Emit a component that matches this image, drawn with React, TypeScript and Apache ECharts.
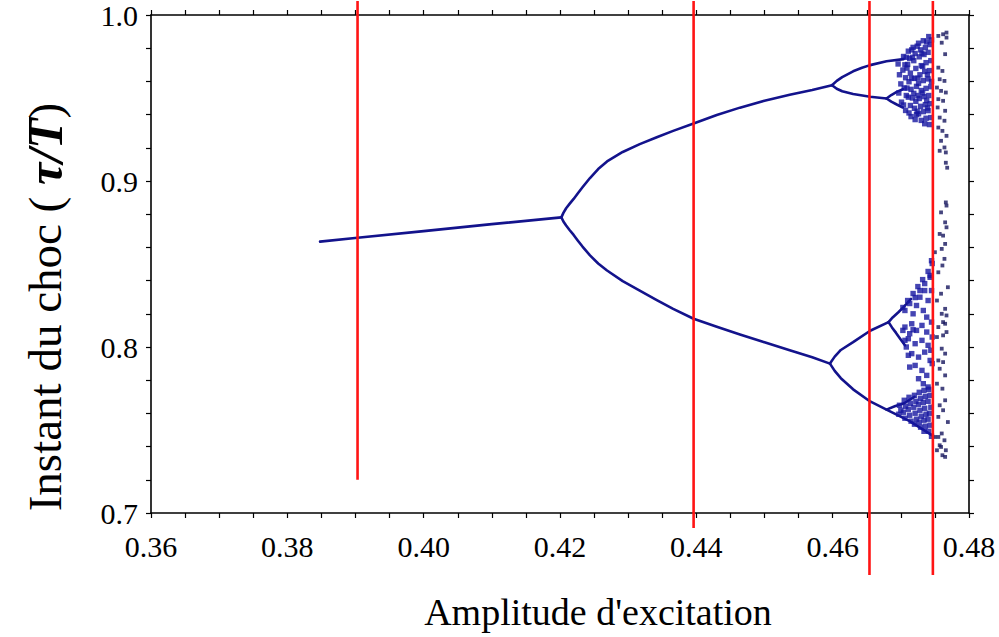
import React, { useEffect, useRef } from "react";
import * as echarts from "echarts";

// ---- Branch curves (amplitude, tau/T) ----
const period1 = [[0.3848, 0.8635], [0.3903, 0.8658], [0.4, 0.8698], [0.41, 0.874], [0.4202, 0.8781]];
const upperBranch = [[0.4202, 0.8781], [0.4205, 0.8808], [0.4209, 0.8836], [0.4214, 0.8862], [0.422, 0.8892], [0.4226, 0.8925], [0.4233, 0.8962], [0.4244, 0.9018], [0.4256, 0.9072], [0.4269, 0.9118], [0.4292, 0.9175], [0.4317, 0.9222], [0.4342, 0.9264], [0.4366, 0.9302], [0.4396, 0.9346], [0.443, 0.9398], [0.4464, 0.9442], [0.45, 0.9484], [0.4537, 0.9519], [0.457, 0.9548], [0.4599, 0.9577]];
const lowerBranch = [[0.4202, 0.8781], [0.4205, 0.8756], [0.4209, 0.8732], [0.4214, 0.8705], [0.422, 0.8675], [0.4226, 0.8642], [0.4233, 0.8605], [0.4244, 0.8552], [0.4256, 0.8503], [0.4269, 0.8461], [0.4292, 0.8397], [0.4317, 0.834], [0.4342, 0.8283], [0.4366, 0.823], [0.4396, 0.817], [0.443, 0.8122], [0.4464, 0.8075], [0.45, 0.8028], [0.4537, 0.798], [0.457, 0.7938], [0.4596, 0.79]];
const upperUpper = [[0.4599, 0.9577], [0.4606, 0.9603], [0.4614, 0.9626], [0.463, 0.9661], [0.4643, 0.9682], [0.4655, 0.9698], [0.4679, 0.9721], [0.4704, 0.9734]];
const upperLower = [[0.4599, 0.9577], [0.4606, 0.9556], [0.4614, 0.9541], [0.463, 0.9524], [0.4655, 0.9508], [0.4679, 0.9497]];
const upperLowerA = [[0.4679, 0.9497], [0.4686, 0.9518], [0.4694, 0.9537], [0.4703, 0.9553]];
const upperLowerB = [[0.4679, 0.9497], [0.4686, 0.9478], [0.4694, 0.9461], [0.4703, 0.9443]];
const lowerUpper = [[0.4596, 0.79], [0.4603, 0.7942], [0.4612, 0.7982], [0.463, 0.8029], [0.4655, 0.8098], [0.4682, 0.815]];
const lowerUpperA = [[0.4682, 0.815], [0.4688, 0.8178], [0.4696, 0.8208], [0.4704, 0.824], [0.4715, 0.829]];
const lowerUpperB = [[0.4682, 0.815], [0.4687, 0.8118], [0.4693, 0.8085], [0.4699, 0.805], [0.4706, 0.801]];
const lowerLower = [[0.4596, 0.79], [0.4603, 0.7856], [0.4612, 0.7812], [0.463, 0.7745], [0.4655, 0.7672], [0.4679, 0.7623], [0.4713, 0.7553], [0.4746, 0.7468]];
const lowerLowerA = [[0.4679, 0.7623], [0.4692, 0.7645], [0.4704, 0.7659], [0.472, 0.77]];

// ---- Chaotic regime dots ----
const chaosUpper = [
  [0.4696, 0.9705], [0.4698, 0.964], [0.47, 0.9585], [0.4697, 0.953], [0.4701, 0.9475],
  [0.4704, 0.975], [0.4706, 0.97], [0.4703, 0.9668], [0.4707, 0.9622], [0.4705, 0.956], [0.4708, 0.9515], [0.4704, 0.9458], [0.4707, 0.9425],
  [0.4711, 0.9782], [0.4713, 0.9738], [0.471, 0.9702], [0.4714, 0.965], [0.4712, 0.9598], [0.4715, 0.9552], [0.4711, 0.9505], [0.4714, 0.9455], [0.4712, 0.941], [0.4715, 0.9388],
  [0.4718, 0.9805], [0.4721, 0.9768], [0.4719, 0.9725], [0.4722, 0.9678], [0.472, 0.9618], [0.4723, 0.957], [0.4719, 0.9528], [0.4722, 0.948], [0.472, 0.9438], [0.4723, 0.94], [0.4721, 0.937],
  [0.4726, 0.983], [0.4729, 0.979], [0.4727, 0.9748], [0.473, 0.9695], [0.4728, 0.964], [0.4726, 0.9588], [0.473, 0.9545], [0.4727, 0.9497], [0.4729, 0.945], [0.4726, 0.9405], [0.473, 0.9365],
  [0.4733, 0.9845], [0.4736, 0.9805], [0.4734, 0.9762], [0.4737, 0.9713], [0.4735, 0.966], [0.4733, 0.9605], [0.4737, 0.9558], [0.4734, 0.9508], [0.4736, 0.946], [0.4733, 0.9418], [0.4737, 0.9378], [0.4735, 0.9345],
  [0.4741, 0.987], [0.4743, 0.9822], [0.474, 0.9775], [0.4744, 0.9725], [0.4742, 0.9665], [0.474, 0.9615], [0.4744, 0.9568], [0.4741, 0.9515], [0.4743, 0.9466], [0.474, 0.9424], [0.4744, 0.9382], [0.4742, 0.934],
  [0.4709, 0.968], [0.4717, 0.9745], [0.4717, 0.95], [0.4725, 0.962], [0.4732, 0.969], [0.4732, 0.953], [0.4739, 0.964], [0.4739, 0.944], [0.4724, 0.942], [0.4716, 0.962],
  [0.4708, 0.9745], [0.4716, 0.979], [0.4724, 0.9812], [0.4731, 0.977], [0.4738, 0.9838], [0.4745, 0.985], [0.4709, 0.956], [0.4725, 0.9515], [0.4738, 0.9485], [0.4745, 0.96],
];
const sparseUpper = [
  [0.4755, 0.9874], [0.4762, 0.9884], [0.4767, 0.9864], [0.476, 0.9833], [0.4765, 0.9764], [0.4755, 0.9683], [0.4761, 0.9663],
  [0.4757, 0.9613], [0.4764, 0.9603], [0.4753, 0.9563], [0.4759, 0.9543], [0.4766, 0.9533], [0.4755, 0.9493], [0.4762, 0.9483],
  [0.4754, 0.9443], [0.4765, 0.9423], [0.4757, 0.9382], [0.4764, 0.9363], [0.4755, 0.9322], [0.4761, 0.9302], [0.4767, 0.9272],
  [0.4759, 0.9242], [0.4764, 0.9202], [0.4757, 0.9182], [0.4766, 0.9172], [0.4766, 0.911], [0.4768, 0.908], [0.4767, 0.9894],
];
const chaosLowerMid = [
  [0.4703, 0.8238], [0.471, 0.828], [0.4718, 0.8322], [0.4725, 0.8364], [0.4732, 0.8406], [0.474, 0.8455], [0.4746, 0.8503], [0.4745, 0.852],
  [0.4706, 0.822], [0.4713, 0.8262], [0.4721, 0.8298], [0.4728, 0.834], [0.4735, 0.8382], [0.4743, 0.8431],
  [0.4735, 0.834], [0.4728, 0.83], [0.474, 0.828], [0.4723, 0.825], [0.4733, 0.822], [0.4718, 0.82], [0.4738, 0.818], [0.4745, 0.834], [0.4743, 0.842],
  [0.4706, 0.812], [0.4716, 0.814], [0.4723, 0.81], [0.4731, 0.813], [0.4738, 0.809], [0.4711, 0.805], [0.4721, 0.802], [0.4731, 0.804], [0.474, 0.801],
  [0.4716, 0.796], [0.4726, 0.7939], [0.4735, 0.7969], [0.4743, 0.7919], [0.4721, 0.7889], [0.4731, 0.7859], [0.4738, 0.7829], [0.4726, 0.7809],
  [0.4733, 0.7779], [0.474, 0.7759], [0.4746, 0.806], [0.4746, 0.79], [0.4745, 0.815], [0.4744, 0.798],
  [0.4703, 0.81], [0.4718, 0.8104], [0.4713, 0.808], [0.4706, 0.804], [0.4708, 0.8], [0.4711, 0.795], [0.4713, 0.7879],
];
const chaosLowerLow = [
  [0.4698, 0.7649], [0.47, 0.7619], [0.4697, 0.7595],
  [0.4705, 0.7679], [0.4707, 0.7643], [0.4704, 0.7607], [0.4706, 0.7571],
  [0.4712, 0.7697], [0.4714, 0.7661], [0.4711, 0.7625], [0.4713, 0.7589], [0.4715, 0.7553],
  [0.472, 0.7709], [0.4722, 0.7673], [0.4719, 0.7637], [0.4721, 0.7601], [0.4723, 0.7565], [0.472, 0.7535],
  [0.4727, 0.7727], [0.4729, 0.7691], [0.4726, 0.7655], [0.4728, 0.7619], [0.473, 0.7583], [0.4727, 0.7547], [0.4729, 0.7517],
  [0.4734, 0.7739], [0.4736, 0.7703], [0.4733, 0.7667], [0.4735, 0.7631], [0.4737, 0.7595], [0.4734, 0.7559], [0.4736, 0.7523], [0.4734, 0.7492],
  [0.4741, 0.7745], [0.4743, 0.7709], [0.474, 0.7673], [0.4744, 0.7637], [0.4742, 0.7601], [0.474, 0.7565], [0.4743, 0.7529], [0.4741, 0.7492], [0.4745, 0.7462],
];
const sparseLower = [
  [0.4766, 0.8871], [0.4767, 0.8852], [0.4759, 0.8811], [0.4765, 0.8751], [0.4767, 0.8721], [0.4757, 0.8681], [0.4762, 0.8671],
  [0.4765, 0.8621], [0.476, 0.8591], [0.475, 0.8571], [0.4764, 0.8531], [0.4761, 0.8491], [0.4755, 0.845], [0.4769, 0.836],
  [0.4759, 0.8321], [0.4753, 0.828], [0.4765, 0.823], [0.476, 0.82], [0.4767, 0.819], [0.4762, 0.815],
  [0.4755, 0.812], [0.4765, 0.814], [0.4767, 0.809], [0.4753, 0.806], [0.4762, 0.807], [0.476, 0.799], [0.4765, 0.796],
  [0.4755, 0.7919], [0.4762, 0.7909], [0.4757, 0.7869], [0.4765, 0.7829], [0.4753, 0.7779], [0.4761, 0.7749], [0.4765, 0.7679],
  [0.4757, 0.7649], [0.4762, 0.7619], [0.4755, 0.7579], [0.4769, 0.7548], [0.476, 0.7479], [0.4755, 0.7458], [0.4764, 0.7438],
  [0.4759, 0.7398], [0.4766, 0.7378], [0.4761, 0.7348], [0.4765, 0.7338], [0.475, 0.7458], [0.4753, 0.7378], [0.4757, 0.7408],
];

// ---- Red vertical marker lines ----
const redLines = [
  [[0.3903, 0.72], [0.3903, 1.0084]],
  [[0.4396, 0.691], [0.4396, 1.0084]],
  [[0.4654, 0.6627], [0.4654, 1.0084]],
  [[0.4747, 0.6627], [0.4747, 1.0084]],
];

const xTitle = "Amplitude d'excitation";
const yTitleMain = "Instant du choc ( ";
const yTitleSym = "τ/T";

const FONT = "Liberation Serif";
const CURVE = "#13138c";

export default function App() {
  const ref = useRef<HTMLDivElement>(null);
  useEffect(() => {
    if (!ref.current) return;
    const chart = echarts.init(ref.current, null, { renderer: "svg" });
    const tickStyle = { color: "#000", width: 1.2 };
    const labelStyle = { fontFamily: FONT, fontSize: 30, color: "#000" };
    const mkX = (pos: string, labels: boolean) => ({
      type: "value", min: 0.36, max: 0.48, interval: 0.02, position: pos,
      axisLine: { show: true, onZero: false, lineStyle: { color: "#000", width: 1.6 } },
      axisTick: { show: true, length: 5, lineStyle: tickStyle },
      minorTick: { show: true, splitNumber: 4, length: 5, lineStyle: tickStyle },
      splitLine: { show: false },
      axisLabel: { show: labels, formatter: (v: number) => v.toFixed(2), ...labelStyle, margin: 18 },
    });
    const mkY = (pos: string, labels: boolean) => ({
      type: "value", min: 0.7, max: 1.0, interval: 0.1, position: pos,
      axisLine: { show: true, onZero: false, lineStyle: { color: "#000", width: 1.6 } },
      axisTick: { show: true, length: 5, lineStyle: tickStyle },
      minorTick: { show: true, splitNumber: 5, length: 5, lineStyle: tickStyle },
      splitLine: { show: false },
      axisLabel: { show: labels, formatter: (v: number) => v.toFixed(1), ...labelStyle, margin: 13, padding: [12, 0, 0, 0] },
    });
    const branches = [period1, upperBranch, lowerBranch, upperUpper, upperLower, upperLowerA, upperLowerB, lowerUpper, lowerUpperA, lowerUpperB, lowerLower, lowerLowerA];
    const series: any[] = [];
    branches.forEach((b) => series.push({
      type: "line", data: b, symbol: "none", smooth: false, clip: false, z: 2,
      lineStyle: { color: CURVE, width: 2.6, join: "round", cap: "round" },
    }));
    [chaosUpper, chaosLowerMid, chaosLowerLow].forEach((d) => series.push({
      type: "scatter", data: d, symbol: "rect", symbolSize: 5.4, z: 3,
      itemStyle: { color: "#1616a0" },
    }));
    [sparseUpper, sparseLower].forEach((d) => series.push({
      type: "scatter", data: d, symbol: "rect", symbolSize: 3.8, z: 3,
      itemStyle: { color: "#16165e" },
    }));
    redLines.forEach((l) => series.push({
      type: "line", data: l, symbol: "none", clip: false, z: 5,
      lineStyle: { color: "#ff1414", width: 2.6 },
    }));
    chart.setOption({
      animation: false,
      backgroundColor: "#fff",
      textStyle: { fontFamily: FONT },
      grid: { left: 151, right: 30, top: 14, bottom: 124, containLabel: false },
      xAxis: [mkX("bottom", true), mkX("top", false)],
      yAxis: [mkY("left", true), mkY("right", false)],
      series,
      graphic: [
        {
          type: "text", x: 598, y: 612,
          style: { text: xTitle, font: `38px ${FONT}`, fill: "#000", align: "center", verticalAlign: "middle", textAlign: "center", textVerticalAlign: "middle" },
        },
        {
          type: "text", x: 45, y: 307, rotation: Math.PI / 2,
          style: {
            text: `{a|${yTitleMain}}{b|${yTitleSym}}{a|)}`,
            fill: "#000", align: "center", verticalAlign: "middle", textAlign: "center", textVerticalAlign: "middle",
            rich: {
              a: { fontFamily: FONT, fontSize: 47, fill: "#000", color: "#000" },
              b: { fontFamily: FONT, fontSize: 50, fontWeight: "bold", fontStyle: "italic", fill: "#000", color: "#000" },
            },
          },
        },
      ],
    });
    return () => chart.dispose();
  }, []);
  return <div ref={ref} style={{ position: "fixed", left: 0, top: 0, width: 999, height: 637 }} />;
}
